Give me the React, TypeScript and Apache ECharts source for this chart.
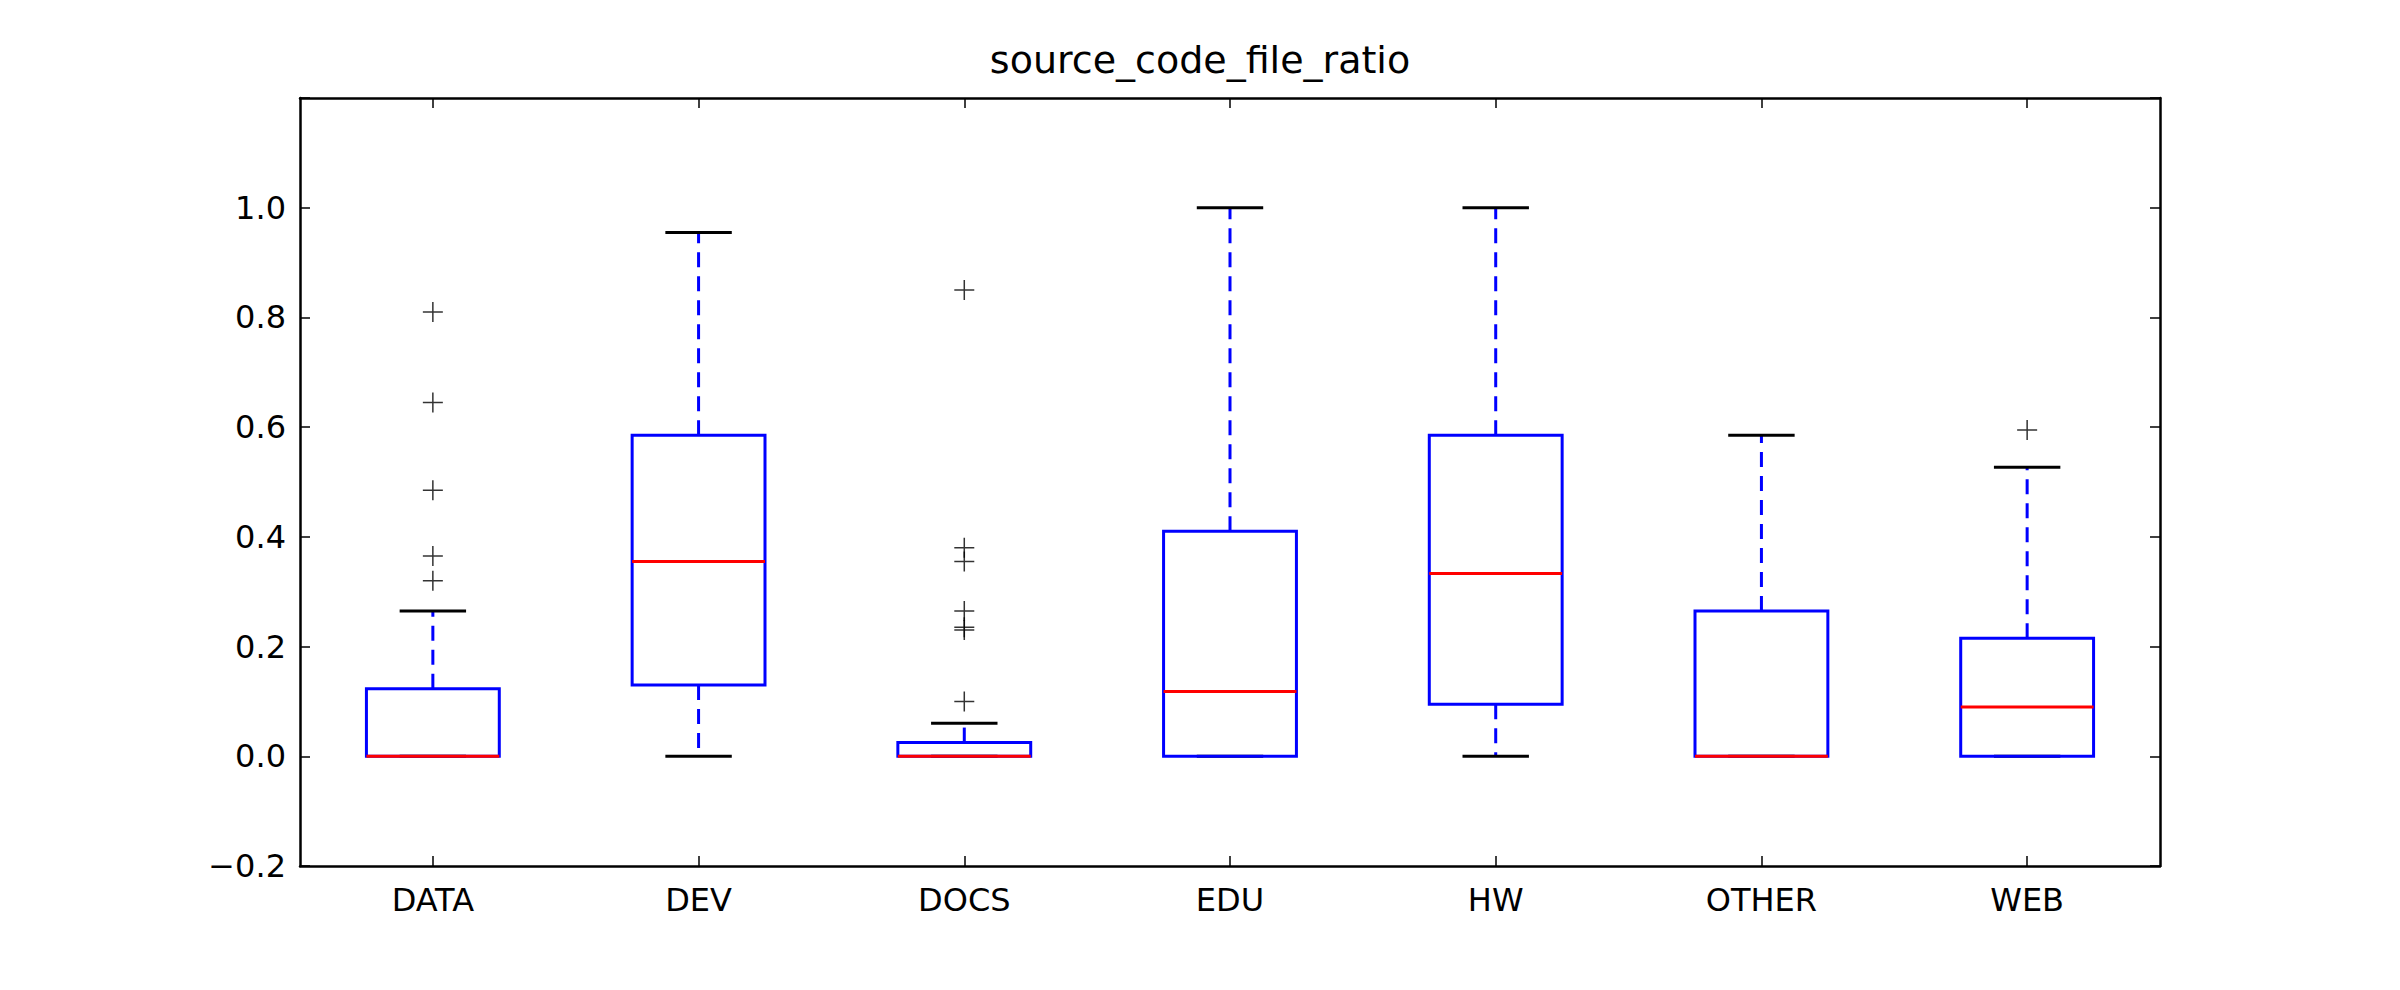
import * as echarts from "echarts";
import { useEffect, useRef } from "react";

const categories = ["DATA", "DEV", "DOCS", "EDU", "HW", "OTHER", "WEB"];
// [low whisker, q1, median, q3, high whisker]
const boxStats = [
  [0, 0, 0, 0.123, 0.265],
  [0, 0.13, 0.355, 0.585, 0.955],
  [0, 0, 0, 0.025, 0.06],
  [0, 0, 0.118, 0.41, 1.0],
  [0, 0.095, 0.333, 0.585, 1.0],
  [0, 0, 0, 0.265, 0.585],
  [0, 0, 0.09, 0.215, 0.527],
];
const outliers = [
  [0, 0.32], [0, 0.365], [0, 0.485], [0, 0.645], [0, 0.81],
  [2, 0.1], [2, 0.23], [2, 0.235], [2, 0.265], [2, 0.355], [2, 0.38], [2, 0.85],
  [6, 0.595],
];

const FONT = "DejaVu Sans";

const App = () => {
  const chartRef = useRef<HTMLDivElement>(null);

  useEffect(() => {
    document.body.style.margin = "0";
    const chart = echarts.init(chartRef.current as HTMLDivElement, null, { renderer: "svg" });

    const tickLabel = (v: number) => (v > 1.01 ? "" : v < 0 ? "\u2212" + Math.abs(v).toFixed(1) : v.toFixed(1));
    const catAxis = (pos: string) => ({
      type: "category",
      data: categories,
      position: pos,
      boundaryGap: true,
      axisLine: { show: true, onZero: false, lineStyle: { color: "#000", width: 2.5 } },
      axisTick: { show: true, inside: true, alignWithLabel: true, length: 10, lineStyle: { color: "#000", width: 1.5 } },
      axisLabel: { show: pos === "bottom", color: "#000", fontFamily: FONT, fontSize: 32, margin: 18 },
      splitLine: { show: false },
    });
    const valAxis = (pos: string) => ({
      type: "value",
      position: pos,
      min: -0.2,
      max: 1.2,
      interval: 0.2,
      axisLine: { show: true, onZero: false, lineStyle: { color: "#000", width: 2.5 } },
      axisTick: { show: true, inside: true, length: 10, lineStyle: { color: "#000", width: 1.5 } },
      axisLabel: { show: pos === "left", color: "#000", fontFamily: FONT, fontSize: 32, margin: 14, formatter: tickLabel },
      splitLine: { show: false },
    });

    const option = {
      animation: false,
      title: {
        text: "source_code_file_ratio",
        left: "center",
        top: 36,
        textStyle: { fontFamily: FONT, fontSize: 38, fontWeight: "normal", color: "#000" },
      },
      grid: { left: 300, right: 240, top: 98, bottom: 124 },
      xAxis: [catAxis("bottom"), catAxis("top")],
      yAxis: [valAxis("left"), valAxis("right")],
      series: [
        {
          type: "custom",
          data: boxStats.map((s, i) => [i, ...s]),
          renderItem: (params: any, api: any) => {
            const idx = api.value(0);
            const band = api.size([1, 0])[0];
            const x = api.coord([idx, 0])[0];
            const y = (k: number) => api.coord([idx, api.value(k)])[1];
            const lo = y(1), q1 = y(2), med = y(3), q3 = y(4), hi = y(5);
            const bw = band * 0.5, cw = band * 0.25;
            const blue = { stroke: "#0000ff", lineWidth: 3, fill: "none" };
            const dash = { stroke: "#0000ff", lineWidth: 3, lineDash: [15, 9] };
            const black = { stroke: "#000", lineWidth: 3 };
            return {
              type: "group",
              children: [
                { type: "line", shape: { x1: x, y1: q3, x2: x, y2: hi }, style: dash },
                { type: "line", shape: { x1: x, y1: q1, x2: x, y2: lo }, style: dash },
                { type: "line", shape: { x1: x - cw / 2, y1: hi, x2: x + cw / 2, y2: hi }, style: black },
                { type: "line", shape: { x1: x - cw / 2, y1: lo, x2: x + cw / 2, y2: lo }, style: black },
                { type: "rect", shape: { x: x - bw / 2, y: q3, width: bw, height: q1 - q3 }, style: blue },
                { type: "line", shape: { x1: x - bw / 2, y1: med, x2: x + bw / 2, y2: med }, style: { stroke: "#ff0000", lineWidth: 3 } },
              ],
            };
          },
        },
        {
          type: "scatter",
          data: outliers,
          symbol: "path://M0,5L10,5M5,0L5,10",
          symbolSize: 20,
          itemStyle: { color: "none", borderColor: "#000", borderWidth: 1.5 },
          z: 5,
        },
      ],
    };
    chart.setOption(option);
    return () => chart.dispose();
  }, []);

  return <div ref={chartRef} style={{ width: "2400px", height: "990px", background: "#fff" }} />;
};

export default App;
